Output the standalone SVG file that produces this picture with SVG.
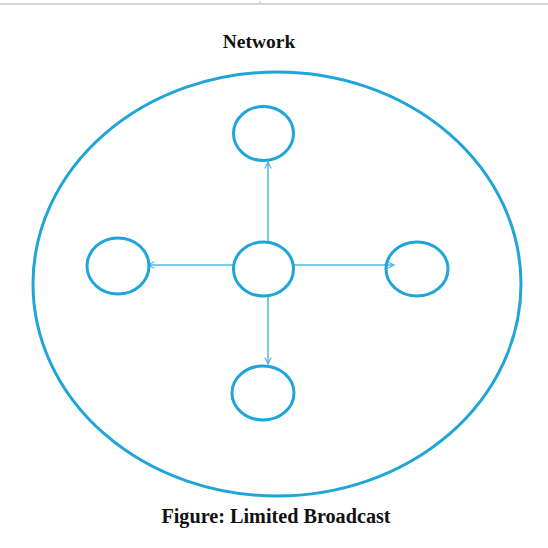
<svg xmlns="http://www.w3.org/2000/svg" width="548" height="548" viewBox="0 0 548 548">
<style>
.node{fill:none;stroke:#1fa5d9;stroke-width:3}
.edge{fill:none;stroke:#4db8e0;stroke-width:1.5}
.t{font-family:"Liberation Serif",serif;font-weight:bold;fill:#111}
</style>
<defs>
<marker id="ah" viewBox="0 0 10 10" refX="9" refY="5" markerWidth="8" markerHeight="8" markerUnits="userSpaceOnUse" orient="auto">
<path d="M1,1 L9,5 L1,9" fill="none" stroke="#4db8e0" stroke-width="1.5"/>
</marker>
</defs>
<rect width="548" height="548" fill="#fff"/>
<line x1="0" y1="4" x2="548" y2="4" stroke="#c8c8c8" stroke-width="1.5"/>
<rect x="259.5" y="1.5" width="1.5" height="2" fill="#c8c8c8"/>
<text class="t" x="259" y="48" font-size="19.5" text-anchor="middle">Network</text>
<g id="network"><ellipse cx="277" cy="284" rx="244" ry="212" class="node"/></g>
<g id="connectors">
<line class="edge" x1="268" y1="242" x2="268" y2="162" marker-end="url(#ah)"/>
<line class="edge" x1="268" y1="296" x2="268" y2="364" marker-end="url(#ah)"/>
<line class="edge" x1="233" y1="265" x2="148" y2="265" marker-end="url(#ah)"/>
<line class="edge" x1="294" y1="265" x2="394" y2="265" marker-end="url(#ah)"/>
</g>
<g id="n-top"><ellipse cx="263.5" cy="133.5" rx="30" ry="27" class="node"/></g>
<g id="n-center"><ellipse cx="263.5" cy="269" rx="30" ry="27" class="node"/></g>
<g id="n-left"><ellipse cx="118" cy="266" rx="31" ry="28" class="node"/></g>
<g id="n-right"><ellipse cx="417" cy="269" rx="31" ry="27" class="node"/></g>
<g id="n-bottom"><ellipse cx="263" cy="393" rx="31" ry="27" class="node"/></g>
<text class="t" x="276" y="523" font-size="20.2" text-anchor="middle">Figure: Limited Broadcast</text>
</svg>
